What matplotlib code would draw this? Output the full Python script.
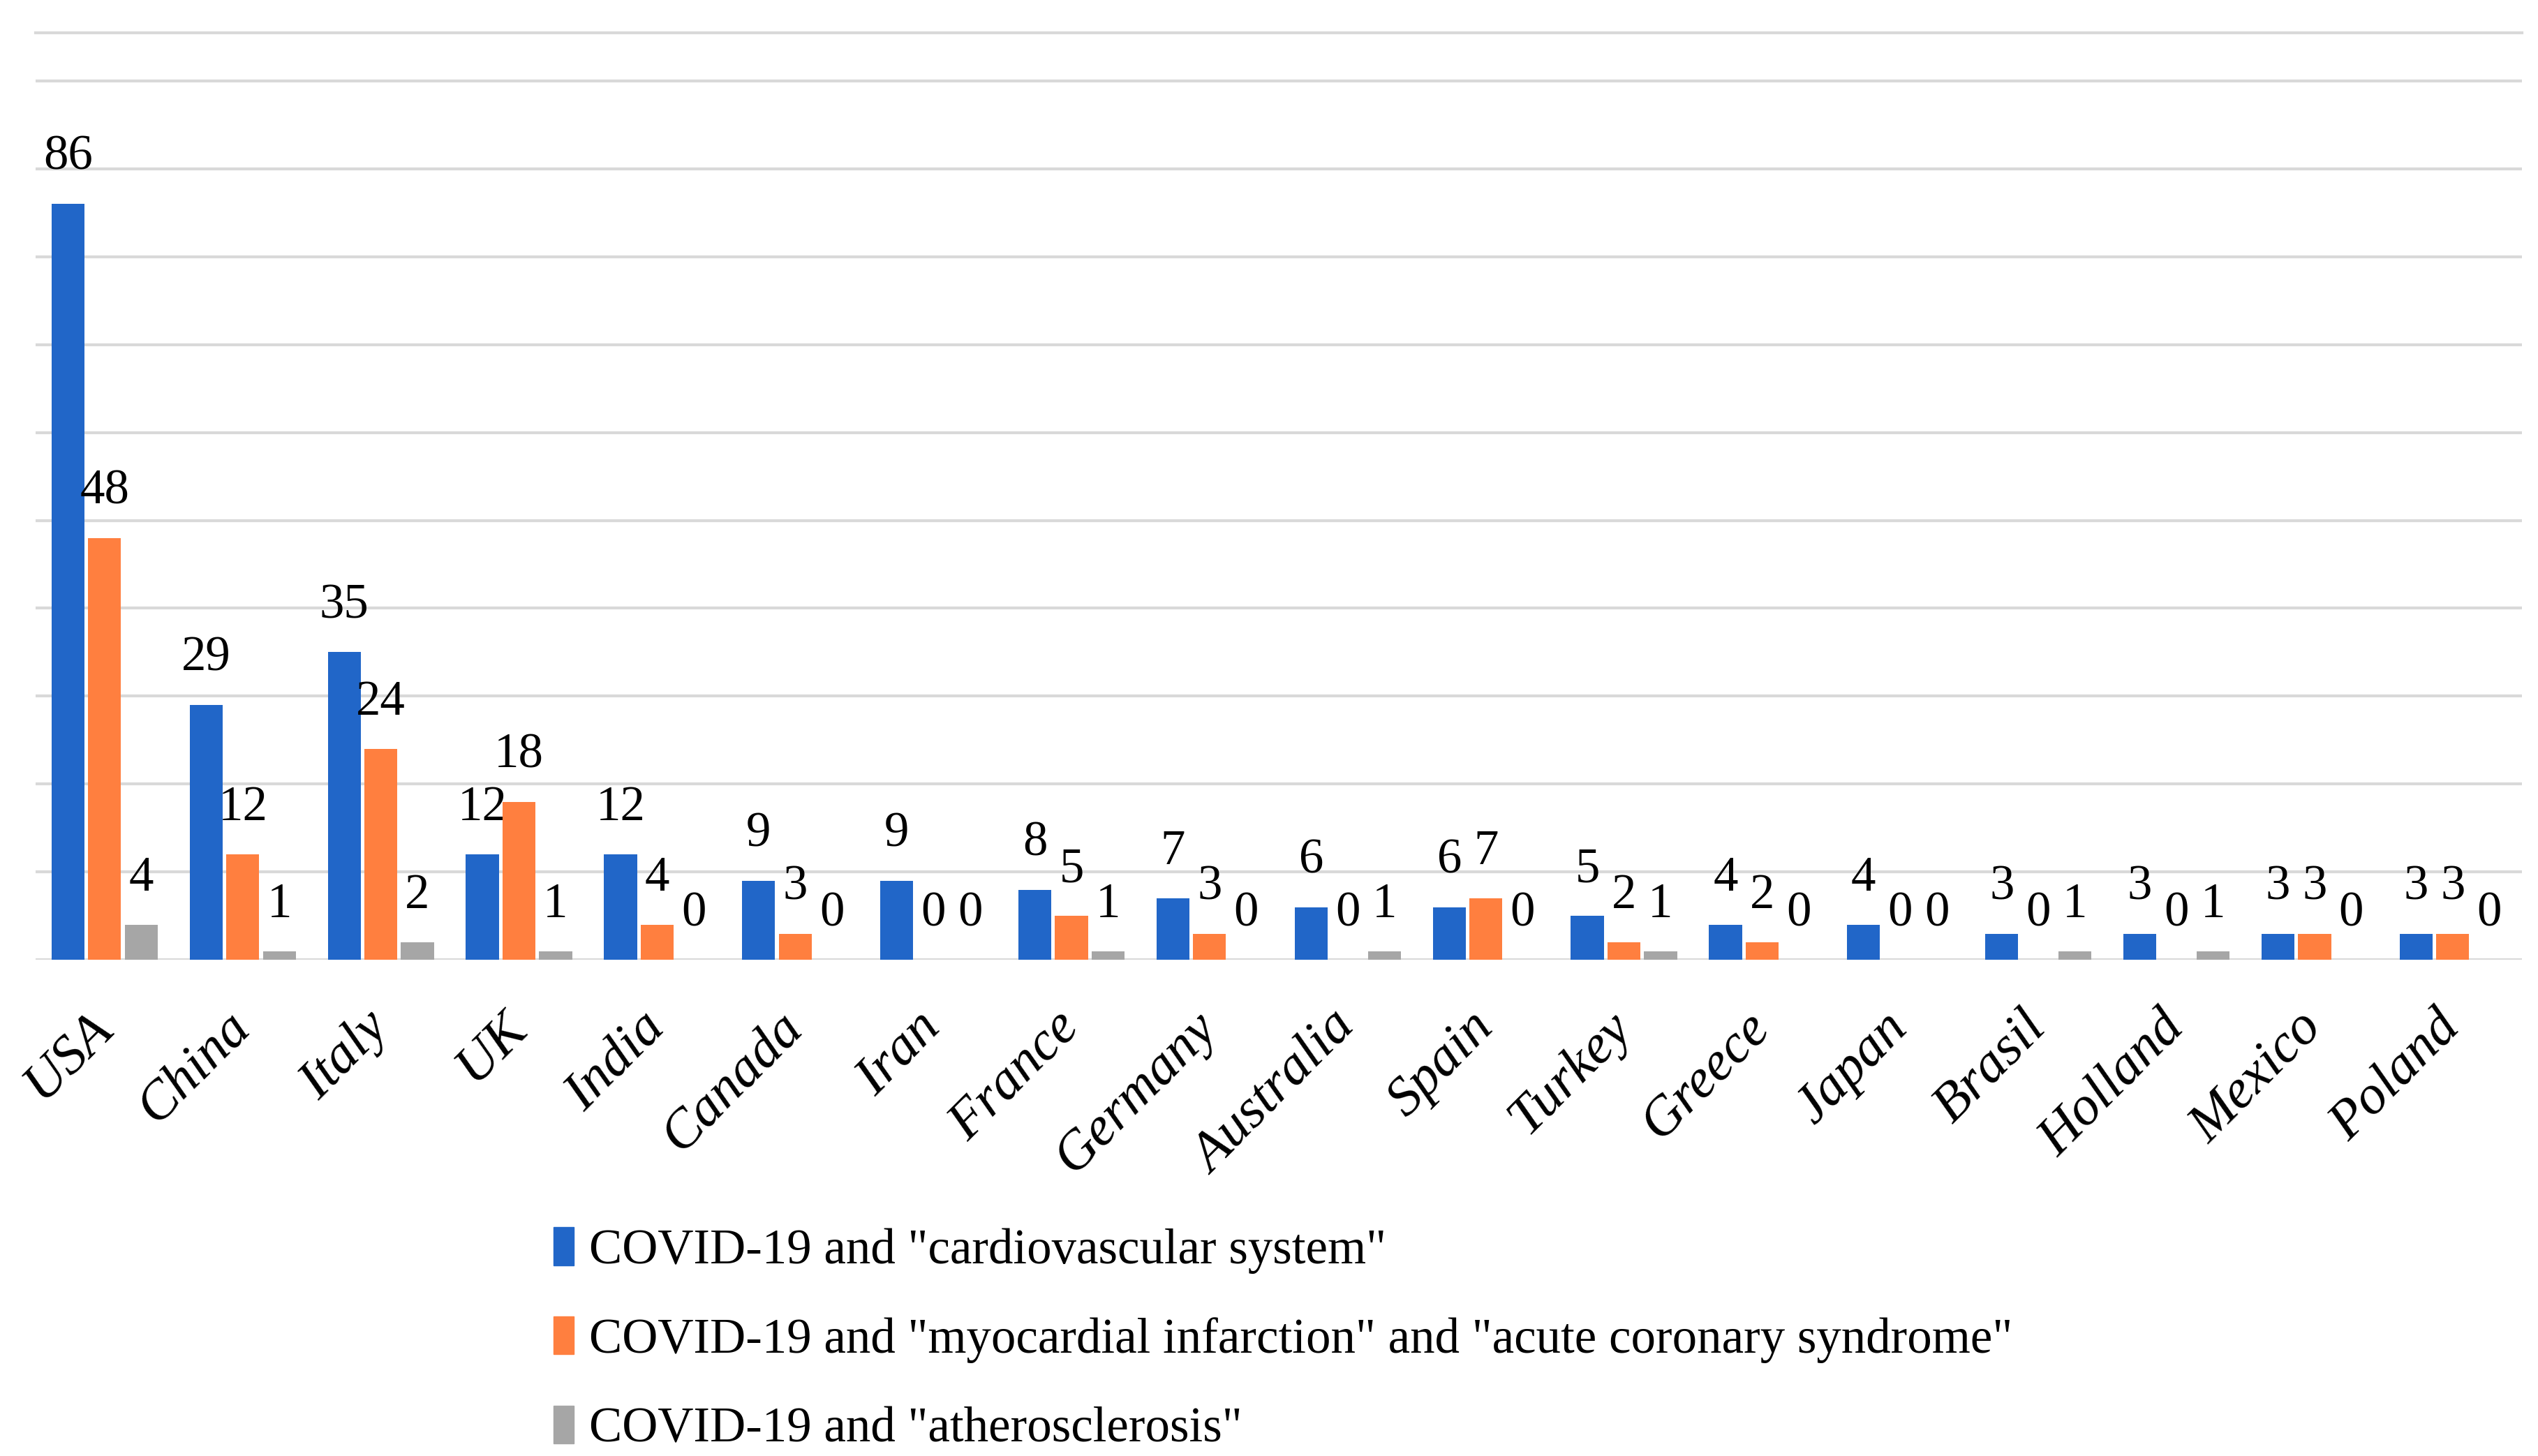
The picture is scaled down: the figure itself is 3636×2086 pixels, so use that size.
import matplotlib
matplotlib.use("Agg")
import matplotlib.pyplot as plt
from matplotlib.patches import Patch
import numpy as np

# data
countries = ["USA", "China", "Italy", "UK", "India", "Canada", "Iran", "France",
             "Germany", "Australia", "Spain", "Turkey", "Greece", "Japan",
             "Brasil", "Holland", "Mexico", "Poland"]
cardio = [86, 29, 35, 12, 12, 9, 9, 8, 7, 6, 6, 5, 4, 4, 3, 3, 3, 3]
infarct = [48, 12, 24, 18, 4, 3, 0, 5, 3, 0, 7, 2, 2, 0, 0, 0, 3, 3]
athero = [4, 1, 2, 1, 0, 0, 0, 1, 0, 1, 0, 1, 0, 0, 1, 1, 0, 0]
series_names = ['COVID-19 and "cardiovascular system"',
                'COVID-19 and "myocardial infarction" and "acute coronary syndrome"',
                'COVID-19 and "atherosclerosis"']
colors = ["#2166C8", "#FF7F3F", "#A6A6A6"]

serif = ["Liberation Serif", "DejaVu Serif"]

fig = plt.figure(figsize=(36.36, 20.86), dpi=100)
ax = fig.add_axes([0.014, 0.3407, 0.9796, 0.637])

x = np.arange(len(countries))
w = 0.265
for i, vals in enumerate([cardio, infarct, athero]):
    xs = x + (i - 1) * w
    ax.bar(xs, vals, width=w * 0.9, color=colors[i], zorder=3)
    for xv, v in zip(xs, vals):
        ax.annotate(str(v), (xv, v), xytext=(0, 48), textcoords="offset points",
                    ha="center", va="center", fontsize=51, family=serif)

ax.set_xlim(-0.5, len(countries) - 0.5)
ax.set_ylim(0, 105.5)
for yv in range(0, 101, 10):
    ax.axhline(yv, color="#D9D9D9", lw=3, zorder=1)
ax.axhline(105.5, color="#D9D9D9", lw=3, zorder=1, clip_on=False)

for s in ax.spines.values():
    s.set_visible(False)
ax.set_yticks([])
ax.set_xticks(x)
ax.set_xticklabels(countries, rotation=45, ha="right", va="center",
                   rotation_mode="anchor", fontsize=57, family=serif, style="italic")
ax.tick_params(axis="x", length=0, pad=62)

handles = [Patch(color=c) for c in colors]
fig.legend(handles, series_names, loc="upper left", bbox_to_anchor=(0.218, 0.157),
           frameon=False, prop={"family": serif, "size": 51},
           handlelength=0.42, handleheight=0.8, handletextpad=0.3,
           labelspacing=0.86, borderpad=0, borderaxespad=0)

fig.savefig("out.png", dpi=100, facecolor="white")
